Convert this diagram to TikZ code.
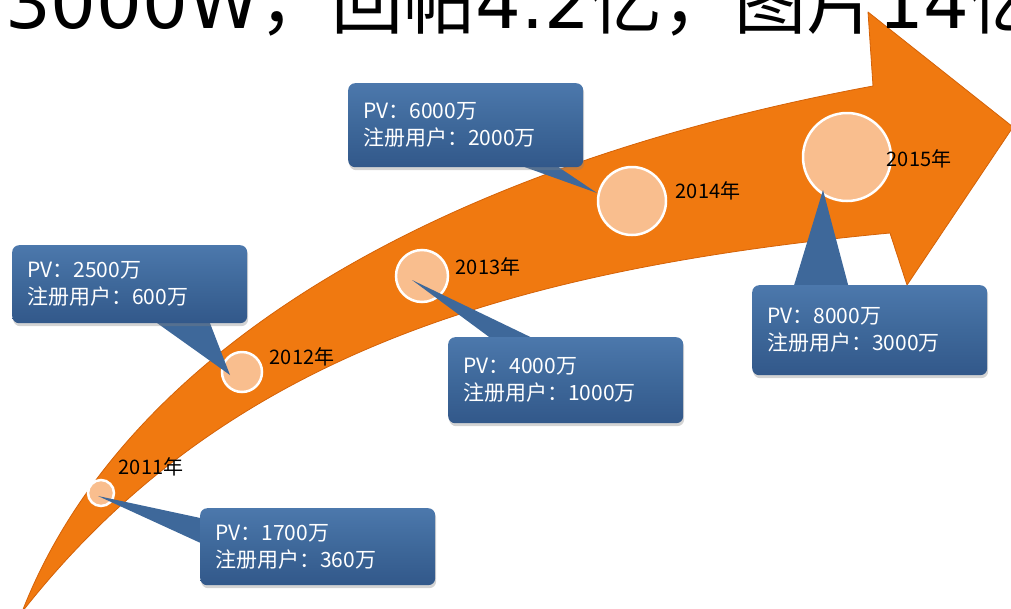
\documentclass[tikz,border=0pt]{standalone}
\usepackage{fontspec}
\setmainfont{DejaVu Sans}
\newfontfamily\cjk{Noto Sans CJK SC}
\usetikzlibrary{shadows,calc}
\definecolor{arrowor}{RGB}{240,121,16}
\definecolor{arrowedge}{RGB}{212,98,8}
\definecolor{dotfill}{RGB}{249,190,142}
\definecolor{boxblue}{RGB}{62,104,154}
\definecolor{boxtop}{RGB}{76,120,172}
\definecolor{boxbot}{RGB}{50,88,138}
\newcommand\bigcjk[1]{{\cjk\fontsize{72}{72}\selectfont #1}}
\tikzset{
  dot/.style={circle, fill=dotfill, draw=white, line width=2.5pt, inner sep=0pt},
  yearlbl/.style={font=\cjk\fontsize{20}{20}\selectfont, text=black, inner sep=0pt},
  callout/.style={rounded corners=7pt, top color=boxtop, bottom color=boxbot, middle color=boxblue,
    drop shadow={opacity=0.35, shadow xshift=1pt, shadow yshift=-3pt},
    text=white, align=left, anchor=north west, inner xsep=15pt, inner ysep=0pt,
    font=\cjk\fontsize{21}{27}\selectfont, text width=205pt},
  tail/.style={fill=boxblue}
}
\begin{document}
\begin{tikzpicture}[x=1pt,y=-1pt]
\useasboundingbox (0,0) rectangle (1011,608);
% arrow
\fill[arrowor, draw=arrowedge, line width=0.8pt, line join=round]
  (22,612) .. controls (120,360) and (420,170) .. (873,86)
  -- (868,12) -- (1013,127) -- (907,285) -- (890,233)
  .. controls (500,270) and (220,360) .. (22,612) -- cycle;
% title
\node[anchor=base west, inner sep=0pt] (title) at (5,28)
  {\fontsize{72}{72}\selectfont 3000W\bigcjk{，回帖}4.2\bigcjk{亿，图片}14\bigcjk{亿}};
% dots
\node[dot, minimum size=26pt] (c2011) at (101,493) {};
\node[dot, minimum size=40pt] (c2012) at (242,372) {};
\node[dot, minimum size=52pt] (c2013) at (422,276) {};
\node[dot, minimum size=68pt] (c2014) at (632,201) {};
\node[dot, minimum size=88pt] (c2015) at (847,157) {};
% year labels
\node[yearlbl] (l2011) at (151,467) {2011年};
\node[yearlbl] (l2012) at (302,357) {2012年};
\node[yearlbl] (l2013) at (488,267) {2013年};
\node[yearlbl] (l2014) at (708,191) {2014年};
\node[yearlbl] (l2015) at (919,159) {2015年};
% tails
\fill[tail] ($(c2011.center)+(-3,3)$) -- (205,519) -- (205,545) -- cycle;
\fill[tail] ($(c2012.center)+(-12,3)$) -- (150,318) -- (208,318) -- cycle;
\fill[tail] ($(c2013.center)+(-10,4)$) -- (500,345) -- (547,345) -- cycle;
\fill[tail] ($(c2014.center)+(-35,-8)$) -- (505,160) -- (548,160) -- cycle;
\fill[tail] ($(c2015.center)+(-24,33)$) -- (792,292) -- (850,292) -- cycle;
% boxes
\node[callout, minimum height=77pt] (b2011) at (200,508) {PV：1700万\\注册用户：360万};
\node[callout, minimum height=78pt] (b2012) at (12,245) {PV：2500万\\注册用户：600万};
\node[callout, minimum height=86pt] (b2013) at (448,337) {PV：4000万\\注册用户：1000万};
\node[callout, minimum height=84pt] (b2014) at (348,83) {PV：6000万\\注册用户：2000万};
\node[callout, minimum height=90pt] (b2015) at (752,285) {PV：8000万\\注册用户：3000万};
\end{tikzpicture}
\end{document}
